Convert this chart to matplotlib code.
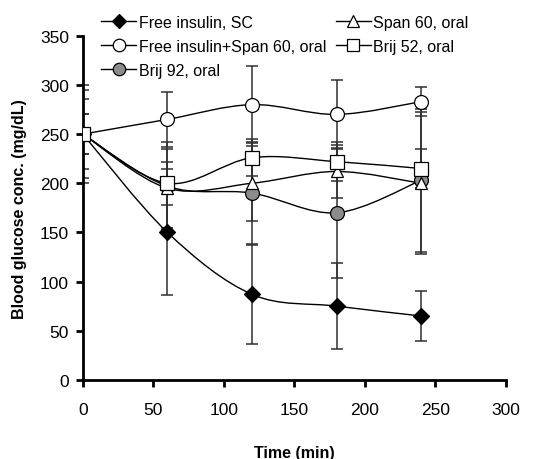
import matplotlib
matplotlib.use("Agg")
import matplotlib.pyplot as plt
from matplotlib.path import Path
from matplotlib.patches import PathPatch
from matplotlib.lines import Line2D
import numpy as np

plt.rcParams['font.family'] = ['Liberation Sans', 'DejaVu Sans']

time = [0, 60, 120, 180, 240]

labels = ["Free insulin, SC", "Free insulin+Span 60, oral", "Brij 92, oral",
          "Span 60, oral", "Brij 52, oral"]

sc_mean = [250, 150, 87, 75, 65]
sc_err = [36, 64, 50, 44, 25]

fis_mean = [250, 265, 280, 270, 283]
fis_err = [20, 28, 39, 35, 15]

brij92_mean = [250, 197, 190, 170, 203]
brij92_err = [50, 45, 52, 66, 73]

span60_mean = [250, 195, 200, 212, 200]
span60_err = [45, 40, 38, 27, 72]

brij52_mean = [250, 200, 226, 222, 215]
brij52_err = [20, 22, 19, 20, 20]

means = [sc_mean, fis_mean, brij92_mean, span60_mean, brij52_mean]
errs = [sc_err, fis_err, brij92_err, span60_err, brij52_err]
markers = ['D', 'o', 'o', '^', 's']
faces = ['black', 'white', '#8c8c8c', 'white', 'white']
msizes = [8, 10, 10, 9, 9.5]

fig = plt.figure(figsize=(5.45, 4.6), dpi=100)
ax = fig.add_axes([0.152, 0.172, 0.776, 0.748])


def smooth_path(xs, ys):
    pts = np.column_stack([xs, ys]).astype(float)
    verts = [pts[0]]
    codes = [Path.MOVETO]
    n = len(pts)
    for i in range(n - 1):
        p0 = pts[i - 1] if i > 0 else pts[i]
        p1 = pts[i]
        p2 = pts[i + 1]
        p3 = pts[i + 2] if i + 2 < n else pts[i + 1]
        c1 = p1 + (p2 - p0) / 6.0
        c2 = p2 - (p3 - p1) / 6.0
        verts += [c1, c2, p2]
        codes += [Path.CURVE4] * 3
    return Path(verts, codes)


handles = []
for m, e, mk, fc, ms, lab in zip(means, errs, markers, faces, msizes, labels):
    ax.errorbar(time, m, yerr=e, fmt='none', ecolor='#303030', elinewidth=1.1,
                capsize=4, capthick=1.1, zorder=2)
    ax.add_patch(PathPatch(smooth_path(time, m), fill=False, edgecolor='black',
                           lw=1.0, zorder=3))
    ax.plot(time, m, linestyle='none', marker=mk, markerfacecolor=fc,
            markeredgecolor='black', markeredgewidth=0.9, markersize=ms, zorder=4)
    handles.append(Line2D([], [], color='black', lw=1.0, marker=mk,
                          markerfacecolor=fc, markeredgecolor='black',
                          markeredgewidth=0.9, markersize=ms * 0.9))

ax.set_xlim(0, 300)
ax.set_ylim(0, 350)
ax.set_xticks([0, 50, 100, 150, 200, 250, 300])
ax.set_yticks([0, 50, 100, 150, 200, 250, 300, 350])
for s in ['top', 'right']:
    ax.spines[s].set_visible(False)
for s in ['left', 'bottom']:
    ax.spines[s].set_linewidth(2)
ax.tick_params(axis='both', direction='out', length=5, width=2, labelsize=12.5)
ax.tick_params(axis='x', pad=11)
ax.tick_params(axis='y', pad=5)

ax.set_xlabel("Time (min)", fontsize=11.5, fontweight='bold', labelpad=20)
ax.set_ylabel("Blood glucose conc. (mg/dL)", fontsize=11.5, fontweight='bold', labelpad=9)

leg = ax.legend(handles, labels, ncol=2, loc='upper left',
                bbox_to_anchor=(0.028, 1.08), frameon=False, fontsize=11.5,
                handlelength=2.2, handletextpad=0.15, columnspacing=0.6,
                labelspacing=0.56, borderaxespad=0)
leg.set_zorder(5)

fig.savefig("out.png", dpi=100)
